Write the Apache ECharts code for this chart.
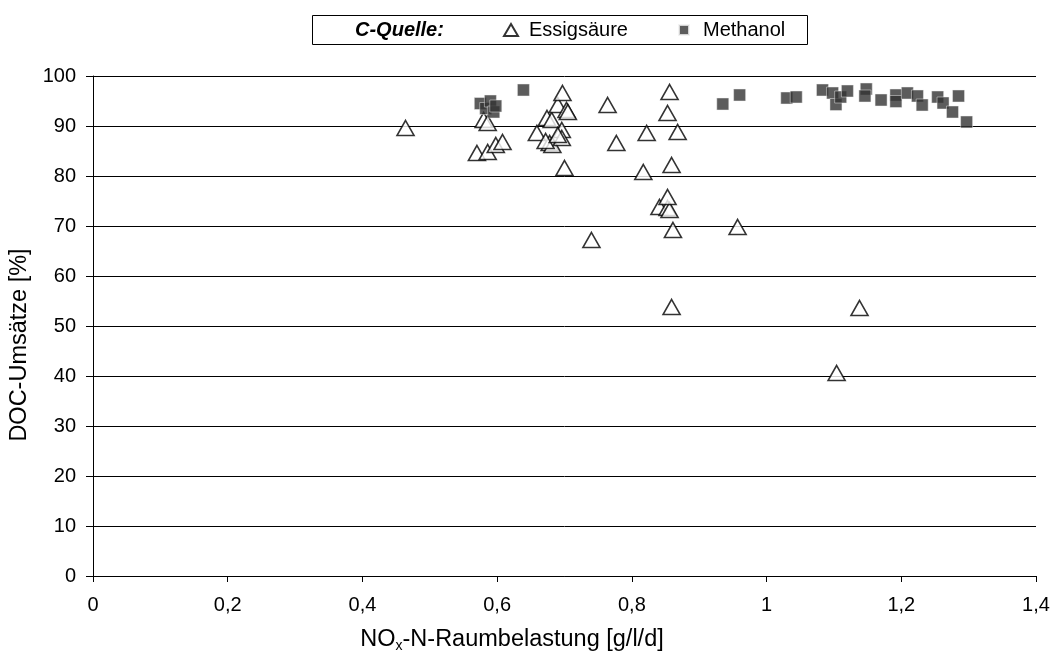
<!DOCTYPE html>
<html><head><meta charset="utf-8">
<script src="https://cdn.jsdelivr.net/npm/echarts@6/dist/echarts.min.js"></script>
<style>html,body{margin:0;padding:0;background:#fff}#c{width:1053px;height:652px}</style>
</head><body><div id="c"></div>
<script>
const seriesNames = ['Essigsäure', 'Methanol'];
const essigX = [0.464,0.570,0.586,0.598,0.608,0.580,0.586,0.659,0.674,0.681,0.678,0.682,0.672,0.690,0.697,0.703,0.705,0.696,0.696,0.690,0.700,0.740,0.764,0.777,0.817,0.822,0.841,0.853,0.856,0.853,0.853,0.856,0.859,0.859,0.861,0.868,0.957,1.104,1.138];
const essigY = [89.6,84.6,84.8,86.2,86.8,91.2,90.6,88.6,91.6,91.2,86.6,86.2,87.0,94.2,96.6,93.2,92.8,89.2,87.6,88.2,81.6,67.2,94.2,86.6,80.8,88.6,73.8,73.6,73.2,75.8,92.6,96.8,82.2,53.8,69.2,88.8,69.8,40.6,53.6];
const methX = [0.575,0.583,0.590,0.595,0.598,0.639,0.935,0.960,1.030,1.044,1.083,1.098,1.103,1.110,1.120,1.148,1.146,1.170,1.192,1.192,1.209,1.224,1.231,1.254,1.262,1.276,1.285,1.297];
const methY = [94.5,93.5,95.0,92.8,94.0,97.2,94.4,96.2,95.6,95.8,97.2,96.6,94.3,95.8,97.0,97.4,96.0,95.2,96.2,94.9,96.6,96.0,94.2,95.8,94.6,92.8,96.0,90.8];
const xTicks = {min: 0, max: 1.4, interval: 0.2};
const yTicks = {min: 0, max: 100, interval: 10};

const font = 'Liberation Sans, Arial, sans-serif';
const zip = (xs, ys) => xs.map((x, i) => [x, ys[i]]);
const chart = echarts.init(document.getElementById('c'));
const legendText = {fontSize: 20, color: '#000', fontFamily: font};
chart.setOption({
  animation: false,
  backgroundColor: '#fff',
  textStyle: {fontFamily: font},
  grid: {left: 93, right: 17, top: 76, bottom: 76, containLabel: false},
  graphic: [
    {type: 'rect', shape: {x: 312.5, y: 15.5, width: 495, height: 29}, style: {fill: '#fff', stroke: '#000', lineWidth: 1}, z: 0},
    {type: 'text', x: 355, y: 30, style: {text: 'C-Quelle:', font: 'italic bold 20px ' + font, fill: '#000', textVerticalAlign: 'middle'}, z: 5},
    {type: 'text', x: 512, y: 640, style: {
      text: '{n|NO}{s|x}{n|-N-Raumbelastung [g/l/d]}', textAlign: 'center', textVerticalAlign: 'middle',
      rich: {n: {fontSize: 23.5, fill: '#000', fontFamily: font}, s: {fontSize: 14, fill: '#000', fontFamily: font, padding: [13, 0, 0, 0]}}}, z: 5},
    {type: 'text', x: 20, y: 345, rotation: Math.PI / 2, style: {
      text: 'DOC-Umsätze [%]', textAlign: 'center', textVerticalAlign: 'middle', fontSize: 23.5, fill: '#000', fontFamily: font}, z: 5}
  ],
  legend: [
    {data: [seriesNames[0]], left: 503, top: 20, padding: 0, itemWidth: 14, itemHeight: 12,
     textStyle: Object.assign({padding: [0, 0, 0, 6]}, legendText), z: 5},
    {data: [seriesNames[1]], left: 678, top: 20, padding: 0, itemWidth: 10, itemHeight: 10,
     textStyle: Object.assign({padding: [0, 0, 0, 9]}, legendText), z: 5}
  ],
  xAxis: {
    type: 'value', min: xTicks.min, max: xTicks.max, interval: xTicks.interval,
    axisLine: {lineStyle: {color: '#000', width: 1}},
    axisTick: {show: true, length: 6, lineStyle: {color: '#000'}},
    axisLabel: {fontSize: 20, color: '#000', margin: 19, formatter: v => String(+v.toFixed(1)).replace('.', ',')},
    splitLine: {show: false}
  },
  yAxis: {
    type: 'value', min: yTicks.min, max: yTicks.max, interval: yTicks.interval,
    axisLine: {show: true, lineStyle: {color: '#000', width: 1}},
    axisTick: {show: true, length: 7, lineStyle: {color: '#000'}},
    axisLabel: {fontSize: 20, color: '#000', margin: 17},
    splitLine: {show: true, lineStyle: {color: '#000', width: 1}}
  },
  series: [
    {name: seriesNames[0], type: 'scatter', data: zip(essigX, essigY), symbol: 'triangle', symbolSize: [17, 15],
     itemStyle: {color: '#fff', borderColor: '#000', borderWidth: 1.6}},
    {name: seriesNames[1], type: 'scatter', data: zip(methX, methY), symbol: 'rect', symbolSize: 12,
     itemStyle: {color: '#333', borderColor: '#f0f0f0', borderWidth: 0.6}}
  ]
});
</script></body></html>
